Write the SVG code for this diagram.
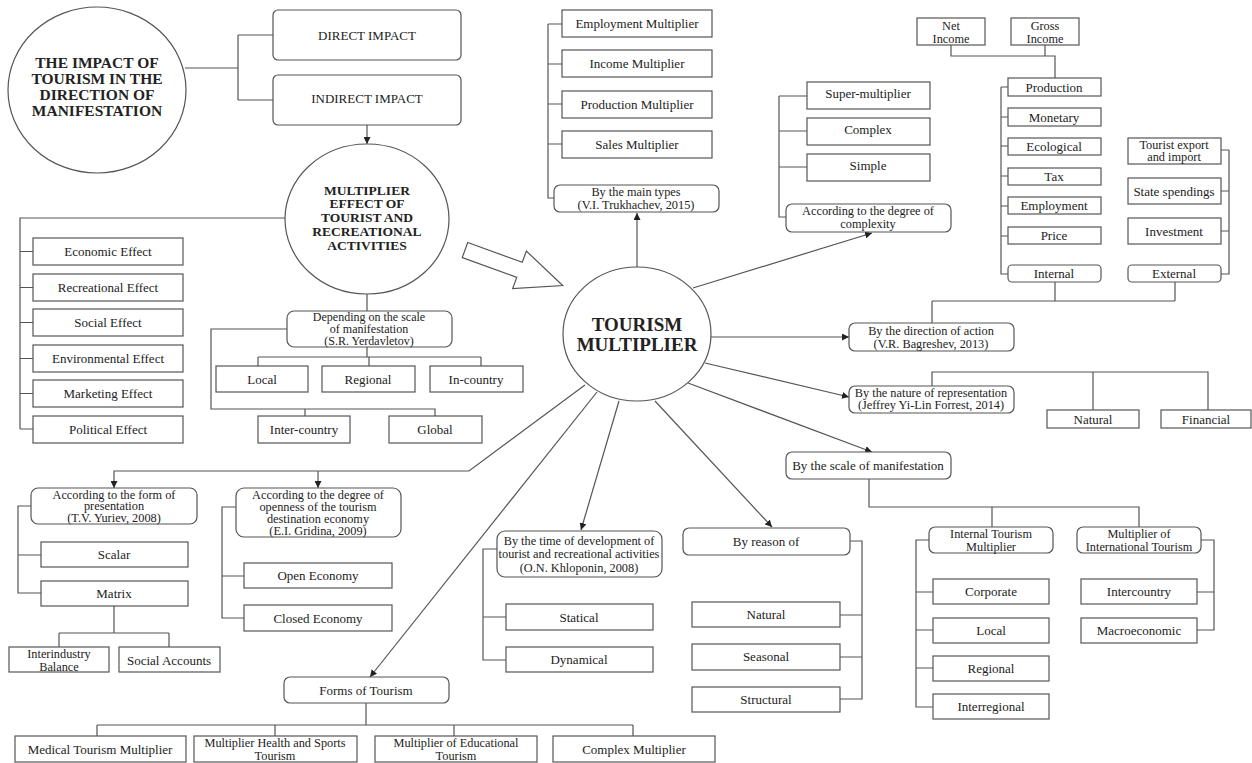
<svg xmlns="http://www.w3.org/2000/svg" width="1252" height="763" viewBox="0 0 1252 763">
<style>
.b{fill:#fff;stroke:#555;stroke-width:1.2}
.c{fill:none;stroke:#555;stroke-width:1.2}
text{font-family:"Liberation Serif","Times New Roman",serif;fill:#222;text-anchor:middle;dominant-baseline:central}
.t{font-size:13px}
.s{font-size:12.3px}
.h{font-weight:bold}
</style>
<defs>
<marker id="ar" viewBox="0 0 10 10" refX="10" refY="5" markerWidth="7" markerHeight="7" orient="auto" markerUnits="userSpaceOnUse"><path d="M0,0L10,5L0,10z" fill="#222"/></marker>
</defs>
<rect width="1252" height="763" fill="#fff"/>
<g id="connectors">
<path class="c" d="M185,68H238M238,35V100M238,35H273M238,100H273"/>
<path class="c" d="M367,125V144" marker-end="url(#ar)"/>
<path class="c" d="M285,218H20V429M20,251.5H33M20,287.5H33M20,322.5H33M20,358.5H33M20,393.5H33M20,429H33"/>
<path class="c" d="M367,294V311M287,329H211V409H435V416M305,409V416M367,347V357M258,357H481M258,357V366M369,357V366M481,357V366"/>
<path class="c" d="M548,24V198H554M548,24H562M548,64H562M548,104H562M548,144H562"/>
<path class="c" d="M637,267V213" marker-end="url(#ar)"/>
<path class="c" d="M779,96V217H786M779,96H807M779,131H807M779,167H807"/>
<path class="c" d="M693,288L872,233" marker-end="url(#ar)"/>
<path class="c" d="M951,45V56H1055V78M1045,45V56"/>
<path class="c" d="M1001,87V274H1008M1001,87H1008M1001,117H1008M1001,146H1008M1001,176H1008M1001,206H1008M1001,236H1008"/>
<path class="c" d="M1229,150V274H1221M1229,150H1221M1229,191H1221M1229,231H1221"/>
<path class="c" d="M1055,282V301M1175,282V301M932,301H1175M932,301V323"/>
<path class="c" d="M711,337H849" marker-end="url(#ar)"/>
<path class="c" d="M705,363L849,397" marker-end="url(#ar)"/>
<path class="c" d="M932,386V372H1208V410M1093,372V410"/>
<path class="c" d="M688,383L872,452" marker-end="url(#ar)"/>
<path class="c" d="M869,479V507H1139V527M992,507V527"/>
<path class="c" d="M929,540H916V707H933M916,592H933M916,630H933M916,668H933"/>
<path class="c" d="M1201,540H1214V630H1197M1214,592H1197"/>
<path class="c" d="M655,401L772,527" marker-end="url(#ar)"/>
<path class="c" d="M850,541H862V699H840M862,615H840M862,657H840"/>
<path class="c" d="M619,401L581,530" marker-end="url(#ar)"/>
<path class="c" d="M497,549H483V660H506M483,617H506"/>
<path class="c" d="M597,392L370,677" marker-end="url(#ar)"/>
<path class="c" d="M366,703V725M97,725H633M97,725V736M275,725V736M454,725V736M633,725V736"/>
<path class="c" d="M585,385L469,471H114V488" marker-end="url(#ar)"/>
<path class="c" d="M318,471V488" marker-end="url(#ar)"/>
<path class="c" d="M31,506H18V593H41M18,555H41"/>
<path class="c" d="M114,606V633M59,633H169M59,633V647M169,633V647"/>
<path class="c" d="M236,507H222V618H244M222,576H244"/>
</g>
<g id="fat-arrow"><polygon class="b" transform="translate(465,250) rotate(20)" points="0,-8 58,-8 58,-20 104,0 58,20 58,8 0,8"/></g>
<g id="impact"><ellipse class="b" cx="97" cy="90" rx="89" ry="83"/>
<text class="h" style="font-size:15.5px"><tspan x="97" y="62">THE IMPACT OF</tspan><tspan x="97" y="78">TOURISM IN THE</tspan><tspan x="97" y="94">DIRECTION OF</tspan><tspan x="97" y="110">MANIFESTATION</tspan></text></g>
<g id="direct"><rect class="b" x="273" y="10" width="188" height="50" rx="5"/><text class="t" x="367" y="35">DIRECT IMPACT</text></g>
<g id="indirect"><rect class="b" x="273" y="75" width="188" height="50" rx="5"/><text class="t" x="367" y="98">INDIRECT IMPACT</text></g>
<g id="effect"><ellipse class="b" cx="367" cy="219" rx="82" ry="75"/>
<text class="h" style="font-size:13.5px"><tspan x="367" y="190">MULTIPLIER</tspan><tspan x="367" y="203">EFFECT OF</tspan><tspan x="367" y="217">TOURIST AND</tspan><tspan x="367" y="231">RECREATIONAL</tspan><tspan x="367" y="245">ACTIVITIES</tspan></text></g>
<g id="economic"><rect class="b" x="33" y="238" width="150" height="27"/><text class="t" x="108" y="251.5">Economic Effect</text></g>
<g id="recreational"><rect class="b" x="33" y="274" width="150" height="27"/><text class="t" x="108" y="287.5">Recreational Effect</text></g>
<g id="social"><rect class="b" x="33" y="309" width="150" height="27"/><text class="t" x="108" y="322.5">Social Effect</text></g>
<g id="environmental"><rect class="b" x="33" y="345" width="150" height="27"/><text class="t" x="108" y="358.5">Environmental Effect</text></g>
<g id="marketing"><rect class="b" x="33" y="380" width="150" height="27"/><text class="t" x="108" y="393.5">Marketing Effect</text></g>
<g id="political"><rect class="b" x="33" y="416" width="150" height="27"/><text class="t" x="108" y="429.5">Political Effect</text></g>
<g id="depending"><rect class="b" x="287" y="311" width="165" height="36" rx="7"/><text style="font-size:12px"><tspan x="369" y="317">Depending on the scale</tspan><tspan x="369" y="329">of manifestation</tspan><tspan x="369" y="341">(S.R. Yerdavletov)</tspan></text></g>
<g id="local1"><rect class="b" x="216" y="366" width="92" height="26"/><text class="t" x="262" y="379">Local</text></g>
<g id="regional1"><rect class="b" x="322" y="366" width="93" height="26"/><text class="t" x="368" y="379">Regional</text></g>
<g id="incountry"><rect class="b" x="430" y="366" width="93" height="26"/><text class="t" x="476" y="379">In-country</text></g>
<g id="intercountry1"><rect class="b" x="258" y="416" width="92" height="27"/><text class="t" x="304" y="429.5">Inter-country</text></g>
<g id="global"><rect class="b" x="389" y="416" width="93" height="27"/><text class="t" x="435" y="429.5">Global</text></g>
<g id="tourism-multiplier"><ellipse class="b" cx="637" cy="334" rx="74" ry="67"/>
<text class="h" style="font-size:19px"><tspan x="637" y="324">TOURISM</tspan><tspan x="637" y="344">MULTIPLIER</tspan></text></g>
<g id="employment-m"><rect class="b" x="562" y="10" width="150" height="27"/><text class="t" x="637" y="23">Employment Multiplier</text></g>
<g id="income-m"><rect class="b" x="562" y="50" width="150" height="27"/><text class="t" x="637" y="63">Income Multiplier</text></g>
<g id="production-m"><rect class="b" x="562" y="91" width="150" height="27"/><text class="t" x="637" y="104">Production Multiplier</text></g>
<g id="sales-m"><rect class="b" x="562" y="131" width="150" height="27"/><text class="t" x="637" y="144">Sales Multiplier</text></g>
<g id="main-types"><rect class="b" x="554" y="185" width="165" height="27" rx="6"/><text class="s"><tspan x="636" y="192">By the main types</tspan><tspan x="636" y="204.5">(V.I. Trukhachev, 2015)</tspan></text></g>
<g id="super"><rect class="b" x="807" y="82" width="123" height="27"/><text class="t" x="868" y="93">Super-multiplier</text></g>
<g id="complex"><rect class="b" x="807" y="118" width="123" height="27"/><text class="t" x="868" y="129">Complex</text></g>
<g id="simple"><rect class="b" x="807" y="154" width="123" height="27"/><text class="t" x="868" y="165">Simple</text></g>
<g id="complexity"><rect class="b" x="786" y="204" width="165" height="28" rx="6"/><text class="s"><tspan x="868" y="211">According to the degree of</tspan><tspan x="868" y="223.5">complexity</tspan></text></g>
<g id="net"><rect class="b" x="917" y="18" width="68" height="27"/><text class="s"><tspan x="951" y="25.5">Net</tspan><tspan x="951" y="38.5">Income</tspan></text></g>
<g id="gross"><rect class="b" x="1011" y="18" width="68" height="27"/><text class="s"><tspan x="1045" y="25.5">Gross</tspan><tspan x="1045" y="38.5">Income</tspan></text></g>
<g id="production"><rect class="b" x="1008" y="78" width="93" height="18"/><text class="t" x="1054" y="87">Production</text></g>
<g id="monetary"><rect class="b" x="1008" y="108" width="93" height="18"/><text class="t" x="1054" y="117">Monetary</text></g>
<g id="ecological"><rect class="b" x="1008" y="138" width="93" height="17"/><text class="t" x="1054" y="146">Ecological</text></g>
<g id="tax"><rect class="b" x="1008" y="168" width="93" height="17"/><text class="t" x="1054" y="176">Tax</text></g>
<g id="employment"><rect class="b" x="1008" y="197" width="93" height="17"/><text class="t" x="1054" y="205.5">Employment</text></g>
<g id="price"><rect class="b" x="1008" y="227" width="93" height="17"/><text class="t" x="1054" y="235.5">Price</text></g>
<g id="internal"><rect class="b" x="1008" y="265" width="93" height="17" rx="4"/><text class="t" x="1054" y="273.5">Internal</text></g>
<g id="export"><rect class="b" x="1128" y="138" width="93" height="26"/><text class="s"><tspan x="1174" y="145">Tourist export</tspan><tspan x="1174" y="157">and import</tspan></text></g>
<g id="state"><rect class="b" x="1128" y="178" width="93" height="26"/><text class="t" x="1174" y="191">State spendings</text></g>
<g id="investment"><rect class="b" x="1128" y="218" width="93" height="26"/><text class="t" x="1174" y="231">Investment</text></g>
<g id="external"><rect class="b" x="1128" y="265" width="93" height="17" rx="4"/><text class="t" x="1174" y="273.5">External</text></g>
<g id="direction"><rect class="b" x="849" y="323" width="165" height="28" rx="6"/><text class="s"><tspan x="931" y="331">By the direction of action</tspan><tspan x="931" y="343.5">(V.R. Bagreshev, 2013)</tspan></text></g>
<g id="nature"><rect class="b" x="849" y="386" width="165" height="27" rx="6"/><text class="s"><tspan x="931" y="392.5">By the nature of representation</tspan><tspan x="931" y="405">(Jeffrey Yi-Lin Forrest, 2014)</tspan></text></g>
<g id="natural1"><rect class="b" x="1047" y="410" width="92" height="18"/><text class="t" x="1093" y="419">Natural</text></g>
<g id="financial"><rect class="b" x="1161" y="410" width="90" height="18"/><text class="t" x="1206" y="419">Financial</text></g>
<g id="scale"><rect class="b" x="786" y="452" width="165" height="27" rx="6"/><text class="t" x="868" y="465">By the scale of manifestation</text></g>
<g id="internal-tm"><rect class="b" x="929" y="527" width="124" height="26" rx="6"/><text class="s"><tspan x="991" y="533.5">Internal Tourism</tspan><tspan x="991" y="546.5">Multiplier</tspan></text></g>
<g id="international-tm"><rect class="b" x="1077" y="527" width="124" height="26" rx="6"/><text class="s"><tspan x="1139" y="533.5">Multiplier of</tspan><tspan x="1139" y="546.5">International Tourism</tspan></text></g>
<g id="corporate"><rect class="b" x="933" y="579" width="116" height="25"/><text class="t" x="991" y="591.5">Corporate</text></g>
<g id="local2"><rect class="b" x="933" y="618" width="116" height="25"/><text class="t" x="991" y="630.5">Local</text></g>
<g id="regional2"><rect class="b" x="933" y="656" width="116" height="25"/><text class="t" x="991" y="668.5">Regional</text></g>
<g id="interregional"><rect class="b" x="933" y="694" width="116" height="25"/><text class="t" x="991" y="706.5">Interregional</text></g>
<g id="intercountry2"><rect class="b" x="1081" y="579" width="116" height="25"/><text class="t" x="1139" y="591.5">Intercountry</text></g>
<g id="macro"><rect class="b" x="1081" y="618" width="116" height="25"/><text class="t" x="1139" y="630.5">Macroeconomic</text></g>
<g id="reason"><rect class="b" x="683" y="528" width="167" height="27" rx="6"/><text class="t" x="766" y="541.5">By reason of</text></g>
<g id="natural2"><rect class="b" x="692" y="602" width="148" height="25"/><text class="t" x="766" y="614.5">Natural</text></g>
<g id="seasonal"><rect class="b" x="692" y="644" width="148" height="26"/><text class="t" x="766" y="656.5">Seasonal</text></g>
<g id="structural"><rect class="b" x="692" y="687" width="148" height="25"/><text class="t" x="766" y="699">Structural</text></g>
<g id="time"><rect class="b" x="497" y="531" width="165" height="46" rx="8"/><text class="s"><tspan x="579" y="541">By the time of development of</tspan><tspan x="579" y="554">tourist and recreational activities</tspan><tspan x="579" y="568">(O.N. Khloponin, 2008)</tspan></text></g>
<g id="statical"><rect class="b" x="506" y="604" width="147" height="26"/><text class="t" x="579" y="617">Statical</text></g>
<g id="dynamical"><rect class="b" x="506" y="647" width="147" height="25"/><text class="t" x="579" y="659.5">Dynamical</text></g>
<g id="forms"><rect class="b" x="284" y="677" width="165" height="26" rx="6"/><text class="t" x="366" y="690">Forms of Tourism</text></g>
<g id="medical"><rect class="b" x="15" y="736" width="171" height="26"/><text class="t" x="100" y="749">Medical Tourism Multiplier</text></g>
<g id="health"><rect class="b" x="194" y="736" width="163" height="26"/><text class="s"><tspan x="275" y="743">Multiplier Health and Sports</tspan><tspan x="275" y="756">Tourism</tspan></text></g>
<g id="educational"><rect class="b" x="375" y="736" width="162" height="26"/><text class="s"><tspan x="456" y="743">Multiplier of Educational</tspan><tspan x="456" y="756">Tourism</tspan></text></g>
<g id="complex-m"><rect class="b" x="553" y="736" width="162" height="26"/><text class="t" x="634" y="749">Complex Multiplier</text></g>
<g id="form-pres"><rect class="b" x="31" y="488" width="166" height="36" rx="7"/><text class="s"><tspan x="114" y="494.5">According to the form of</tspan><tspan x="114" y="506">presentation</tspan><tspan x="114" y="517.5">(T.V. Yuriev, 2008)</tspan></text></g>
<g id="scalar"><rect class="b" x="41" y="542" width="147" height="25"/><text class="t" x="114" y="554.5">Scalar</text></g>
<g id="matrix"><rect class="b" x="41" y="581" width="147" height="25"/><text class="t" x="114" y="593">Matrix</text></g>
<g id="interindustry"><rect class="b" x="9" y="647" width="100" height="25"/><text class="s"><tspan x="59" y="654">Interindustry</tspan><tspan x="59" y="666.5">Balance</tspan></text></g>
<g id="accounts"><rect class="b" x="119" y="647" width="101" height="25"/><text class="t" x="169" y="660">Social Accounts</text></g>
<g id="openness"><rect class="b" x="236" y="488" width="165" height="49" rx="8"/><text class="s"><tspan x="318" y="495">According to the degree of</tspan><tspan x="318" y="507">openness of the tourism</tspan><tspan x="318" y="519">destination economy</tspan><tspan x="318" y="531">(E.I. Gridina, 2009)</tspan></text></g>
<g id="open"><rect class="b" x="244" y="563" width="148" height="25"/><text class="t" x="318" y="575.5">Open Economy</text></g>
<g id="closed"><rect class="b" x="244" y="605" width="148" height="26"/><text class="t" x="318" y="618">Closed Economy</text></g>
</svg>
